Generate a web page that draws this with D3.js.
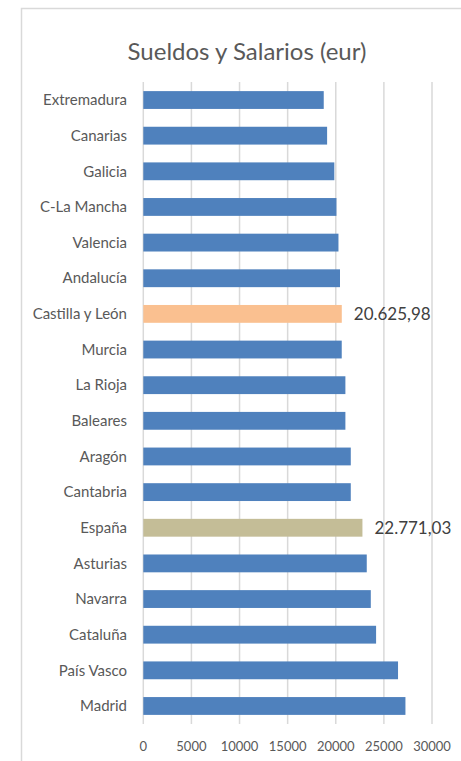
<!DOCTYPE html>
<html>
<head>
<meta charset="utf-8">
<script src="https://cdn.jsdelivr.net/npm/d3@7"></script>
<style>
  body { margin: 0; background: #fff; }
  text { font-family: Lato, "Open Sans", sans-serif; fill: #595959; }
</style>
</head>
<body>
<div id="chart"></div>
<script>
// Regions, top to bottom as drawn
const regions = [
  "Extremadura", "Canarias", "Galicia", "C-La Mancha", "Valencia", "Andalucía",
  "Castilla y León", "Murcia", "La Rioja", "Baleares", "Aragón", "Cantabria",
  "España", "Asturias", "Navarra", "Cataluña", "País Vasco", "Madrid"
];
const salaries = [
  18750, 19100, 19850, 20070, 20280, 20440,
  20625.98, 20620, 21000, 21000, 21560, 21560,
  22771.03, 23220, 23640, 24190, 26470, 27240
];
const ticks = [0, 5000, 10000, 15000, 20000, 25000, 30000];
// only these two bars carry a data label
const labelled = ["Castilla y León", "España"];

const width = 461;
const height = 761;

const svg = d3.select("#chart")
  .append("svg")
  .attr("width", width)
  .attr("height", height);

// chart frame (runs off the right and bottom edges)
svg.append("rect")
  .attr("x", 21.5).attr("y", 8.5)
  .attr("width", 470).attr("height", 780)
  .attr("fill", "none")
  .attr("stroke", "#d9d9d9")
  .attr("stroke-width", 1.5);

svg.append("text")
  .attr("x", 247).attr("y", 60)
  .attr("text-anchor", "middle")
  .attr("font-size", "24px")
  .text("Sueldos y Salarios (eur)");

const x = d3.scaleLinear().domain([0, 30000]).range([143.3, 432]);
const y = d3.scaleBand().domain(regions).range([82.2, 723.8]).paddingInner(0.5).paddingOuter(0.25);

// gridlines
svg.append("g")
  .selectAll("line")
  .data(ticks)
  .join("line")
  .attr("x1", (d) => x(d)).attr("x2", (d) => x(d))
  .attr("y1", 82).attr("y2", 724)
  .attr("stroke", "#d9d9d9")
  .attr("stroke-width", 1.5);

// x tick labels
svg.append("g")
  .selectAll("text")
  .data(ticks)
  .join("text")
  .attr("x", (d) => x(d))
  .attr("y", 751)
  .attr("text-anchor", "middle")
  .attr("font-size", "13px")
  .text((d) => d);

function barColor(name) {
  if (name === "Castilla y León") return "#fac090";
  if (name === "España") return "#c4bd97";
  return "#4f81bd";
}

const data = regions.map((r, i) => ({ name: r, value: salaries[i] }));

svg.append("g")
  .selectAll("rect")
  .data(data)
  .join("rect")
  .attr("x", x(0))
  .attr("y", (d) => y(d.name))
  .attr("width", (d) => x(d.value) - x(0))
  .attr("height", y.bandwidth())
  .attr("fill", (d) => barColor(d.name));

// category labels
svg.append("g")
  .selectAll("text")
  .data(regions)
  .join("text")
  .attr("x", 127)
  .attr("y", (d) => y(d) + y.bandwidth() / 2)
  .attr("dy", "0.35em")
  .attr("text-anchor", "end")
  .attr("font-size", "15px")
  .text((d) => d);

// data labels in Spanish number format
function esFormat(v) {
  const parts = v.toFixed(2).split(".");
  return parts[0].replace(/\B(?=(\d{3})+(?!\d))/g, ".") + "," + parts[1];
}

svg.append("g")
  .selectAll("text")
  .data(data.filter((d) => labelled.includes(d.name)))
  .join("text")
  .attr("x", (d) => x(d.value) + 12)
  .attr("y", (d) => y(d.name) + y.bandwidth() / 2)
  .attr("dy", "0.35em")
  .attr("font-size", "17px")
  .style("fill", "#404040")
  .text((d) => esFormat(d.value));
</script>
</body>
</html>
